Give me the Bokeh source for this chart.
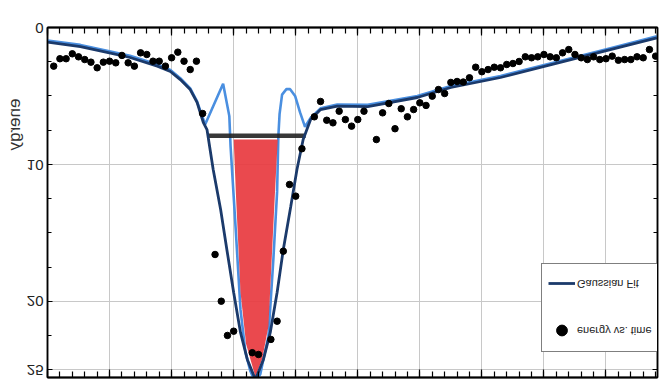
from bokeh.plotting import figure
from bokeh.models import Range1d, FixedTicker, LinearAxis, Legend, LegendItem, Title, Grid
from bokeh.embed import file_html
from bokeh.resources import INLINE

# measured energy samples (time, energy)
time = [0.1, 0.2, 0.3, 0.4, 0.5, 0.6, 0.7, 0.8, 0.9, 1.0,
        1.1, 1.2, 1.3, 1.4, 1.5, 1.6, 1.7, 1.8, 1.9, 2.0,
        2.1, 2.2, 2.3, 2.4, 2.5, 2.7, 2.8, 2.9, 3.0, 3.3,
        3.4, 3.6, 3.7, 3.8, 3.9, 4.0, 4.1, 4.3, 4.4, 4.5,
        4.6, 4.7, 4.8, 4.9, 5.0, 5.1, 5.3, 5.4, 5.5, 5.6,
        5.7, 5.8, 5.9, 6.0, 6.1, 6.2, 6.3, 6.4, 6.5, 6.6,
        6.7, 6.8, 6.9, 7.0, 7.1, 7.2, 7.3, 7.4, 7.5, 7.6,
        7.7, 7.8, 7.9, 8.0, 8.1, 8.2, 8.3, 8.4, 8.5, 8.6,
        8.7, 8.8, 8.9, 9.0, 9.1, 9.2, 9.3, 9.4, 9.5, 9.6,
        9.7, 9.8]
energy = [2.82, 2.28, 2.28, 1.92, 2.14, 2.34, 2.53, 2.94, 2.53, 2.46,
          2.58, 2.04, 2.58, 2.82, 1.85, 1.97, 2.46, 2.46, 2.82, 2.21,
          1.80, 2.46, 3.07, 2.46, 6.28, 16.57, 19.98, 22.48, 22.17, 23.74,
          23.87, 22.77, 21.44, 16.33, 11.46, 12.31, 8.85, 6.52, 5.40, 6.77,
          6.96, 6.11, 6.72, 7.20, 6.72, 6.11, 8.18, 6.23, 5.55, 7.39,
          5.93, 6.52, 5.99, 5.50, 5.69, 5.01, 4.53, 4.82, 4.01, 3.94,
          3.98, 3.67, 2.90, 3.23, 3.07, 2.90, 2.94, 2.70, 2.63, 2.48,
          2.14, 2.21, 2.14, 1.97, 2.14, 2.21, 1.85, 1.61, 1.97, 2.21,
          2.34, 2.14, 2.34, 2.28, 2.09, 2.39, 2.34, 2.34, 2.14, 2.21,
          1.61, 2.09]

# Gaussian fit curve
fit_t = [0.0, 0.53, 0.96, 1.33, 1.77, 1.98, 2.14, 2.30, 2.41, 2.51,
         2.57, 2.67, 2.79, 2.89, 3.00, 3.11, 3.22, 3.35, 3.48, 3.59,
         3.70, 3.80, 3.92, 4.02, 4.12, 4.24, 4.40, 4.67, 5.16, 5.96,
         6.50, 7.30, 8.26, 9.07, 9.82]
fit_e = [1.07, 1.39, 1.82, 2.19, 2.82, 3.21, 3.80, 4.53, 5.47, 6.93,
         7.45, 10.36, 13.28, 16.20, 19.34, 22.26, 24.23, 25.70, 24.23, 22.26,
         19.34, 16.20, 13.07, 10.36, 8.18, 6.72, 5.99, 5.74, 5.77, 5.11,
         4.38, 3.65, 2.55, 1.62, 0.75]

# second (inner) profile
inner_t = [0.0, 0.53, 0.96, 1.33, 1.77, 1.98, 2.14, 2.30, 2.41, 2.54,
           2.83, 2.93, 2.95, 3.03, 3.11, 3.19, 3.27, 3.35, 3.43, 3.48,
           3.56, 3.64, 3.70, 3.72, 3.74, 3.78, 3.85, 3.91, 3.99, 4.07,
           4.15, 4.24, 4.40, 4.67, 5.16, 5.96, 6.50, 7.30, 8.26, 9.07,
           9.82]
inner_e = [0.95, 1.27, 1.70, 2.07, 2.70, 3.10, 3.70, 4.45, 5.40, 7.08,
           4.10, 6.47, 8.66, 14.50, 20.60, 23.70, 25.10, 25.90, 25.30, 24.20,
           22.55, 16.90, 12.00, 7.96, 6.30, 4.90, 4.50, 4.50, 5.00, 6.20,
           7.25, 6.60, 5.90, 5.62, 5.65, 5.00, 4.27, 3.54, 2.44, 1.51,
           0.64]

# filled region under the inner profile
fill_t = [3.00, 3.04, 3.11, 3.20, 3.35, 3.46, 3.56, 3.66, 3.71]
fill_e = [8.18, 12.56, 19.30, 23.10, 25.50, 24.20, 21.80, 12.56, 8.18]

# threshold level
level_t = [2.58, 4.16]
level_e = [7.90, 7.90]

x_major = [0, 1, 2, 3, 4, 5, 6, 7, 8, 9]
x_minor = [i / 5 for i in range(50)]
y_major = [0, 10, 20, 25]
y_minor = [i * 2.5 for i in range(11)]

p = figure(width=660, height=384, output_backend="svg", toolbar_location=None,
           x_range=Range1d(0, 9.83), y_range=Range1d(0, 25.55),
           min_border_left=47, min_border_right=3, min_border_top=6, min_border_bottom=28,
           background_fill_color="white", border_fill_color="white",
           x_axis_type=None, y_axis_type=None,
           styles={"transform": "scaleY(-1)"})
p.outline_line_color = "black"
p.outline_line_width = 1.5

xt = FixedTicker(ticks=x_major, minor_ticks=x_minor)
yt = FixedTicker(ticks=y_major, minor_ticks=y_minor)

p.add_layout(Grid(dimension=0, ticker=xt, grid_line_color="#c8c8c8", grid_line_width=1))
p.add_layout(Grid(dimension=1, ticker=yt, grid_line_color="#c8c8c8", grid_line_width=1))


def make_axis(ticker, tick_in, minor_in, width, labels):
    ax = LinearAxis(ticker=ticker)
    ax.axis_line_color = "black"
    ax.axis_line_width = width
    ax.major_tick_line_color = "black"
    ax.minor_tick_line_color = "black"
    ax.major_tick_line_width = 1.2
    ax.minor_tick_line_width = 1.2
    ax.major_tick_out = 0
    ax.minor_tick_out = 0
    ax.major_tick_in = tick_in
    ax.minor_tick_in = minor_in
    if not labels:
        ax.major_label_text_font_size = "0px"
        ax.major_label_standoff = 0
        ax.major_label_overrides = {t: "" for t in ticker.ticks}
    return ax


p.add_layout(make_axis(xt, 8, 6, 2, False), "below")
p.add_layout(make_axis(xt, 8, 6, 2, False), "above")
yl = make_axis(yt, 5, 4, 1.5, True)
yl.major_label_standoff = 4
yl.major_label_text_font = "Liberation Sans"
yl.major_label_text_font_size = "15px"
yl.major_label_text_color = "#222222"
p.add_layout(yl, "left")
p.add_layout(make_axis(yt, 5, 4, 1.5, False), "right")

p.add_layout(Title(text="energy", align="left", offset=71, standoff=0,
                   text_font="Liberation Sans", text_font_size="17px",
                   text_font_style="normal", text_color="#333333"), "left")

inner = p.line(inner_t, inner_e, line_color="#4a8fe0", line_width=2.6)
red = p.patch(fill_t, fill_e, fill_color="#e83a3f", fill_alpha=0.92, line_color=None)
lvl = p.line(level_t, level_e, line_color="#222222", line_width=4.5, line_alpha=0.9)
fit = p.line(fit_t, fit_e, line_color="#1b3a6b", line_width=2.8)
dots = p.scatter(time, energy, size=6.5, color="black")

legend = Legend(items=[LegendItem(label="energy vs. time", renderers=[dots]),
                       LegendItem(label="Gaussian Fit", renderers=[fit])],
                location=(494, 235), padding=6, spacing=19, margin=0,
                glyph_width=27, glyph_height=28, label_height=28, label_standoff=2,
                label_text_font="Liberation Sans", label_text_font_size="11px",
                label_text_color="#222222",
                border_line_color="black", border_line_width=1.5,
                background_fill_color="white", background_fill_alpha=1)
p.add_layout(legend, "center")

open("out.html", "w").write(file_html(p, INLINE))
